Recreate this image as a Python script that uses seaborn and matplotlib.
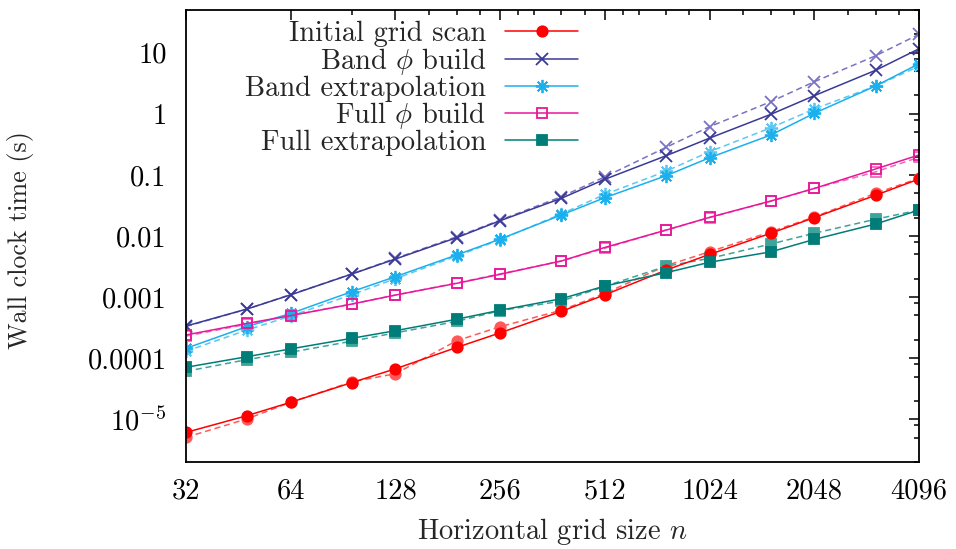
import matplotlib
matplotlib.use("Agg")
import matplotlib.pyplot as plt
import matplotlib.ticker as mticker
import seaborn as sns
import pandas as pd

# ---- data ----
n = [32, 48, 64, 96, 128, 192, 256, 384, 512, 768, 1024, 1536, 2048, 3072, 4096]

initial_scan = [6.1e-6, 1.15e-5, 1.9e-5, 4.0e-5, 6.7e-5, 1.5e-4, 2.6e-4, 5.85e-4, 1.09e-3,
                2.77e-3, 5.0e-3, 0.0111, 0.020, 0.0464, 0.0857]
initial_scan_alt = [5.07e-6, 1.02e-5, 1.9e-5, 4.1e-5, 5.57e-5, 1.93e-4, 3.28e-4, 6.1e-4, 1.15e-3,
                    3.27e-3, 5.53e-3, 0.0117, 0.0205, 0.050, 0.088]

band_build = [3.36e-4, 6.4e-4, 1.09e-3, 2.39e-3, 4.2e-3, 9.4e-3, 0.0178, 0.0414, 0.0848,
              0.206, 0.40, 0.98, 1.98, 5.15, 11.6]
band_build_alt = [3.3e-4, 6.4e-4, 1.1e-3, 2.4e-3, 4.3e-3, 9.7e-3, 0.0182, 0.044, 0.093,
                  0.283, 0.615, 1.58, 3.35, 8.9, 20.0]

band_extrap = [1.45e-4, 3.3e-4, 5.4e-4, 1.23e-3, 2.16e-3, 4.9e-3, 8.9e-3, 0.0221, 0.0424,
               0.097, 0.191, 0.45, 1.02, 2.85, 6.6]
band_extrap_alt = [1.3e-4, 2.9e-4, 4.9e-4, 1.1e-3, 2.0e-3, 4.7e-3, 8.7e-3, 0.023, 0.048,
                   0.115, 0.24, 0.59, 1.2, 2.85, 6.0]

full_build = [2.4e-4, 3.72e-4, 4.97e-4, 7.7e-4, 1.08e-3, 1.68e-3, 2.36e-3, 3.9e-3, 6.5e-3,
              0.0125, 0.0202, 0.0374, 0.060, 0.125, 0.212]
full_build_alt = [2.3e-4, 3.6e-4, 5.0e-4, 7.7e-4, 1.08e-3, 1.7e-3, 2.4e-3, 3.9e-3, 6.3e-3,
                  0.0125, 0.0200, 0.037, 0.060, 0.112, 0.195]

full_extrap = [7.1e-5, 1.06e-4, 1.42e-4, 2.12e-4, 2.82e-4, 4.34e-4, 6.1e-4, 9.4e-4, 1.52e-3,
               2.51e-3, 3.72e-3, 5.5e-3, 8.8e-3, 0.0157, 0.0266]
full_extrap_alt = [6.1e-5, 9.5e-5, 1.25e-4, 1.9e-4, 2.6e-4, 4.0e-4, 6.0e-4, 8.6e-4, 1.5e-3,
                   3.2e-3, 4.3e-3, 7.4e-3, 0.0111, 0.0188, 0.0266]

labels = ["Initial grid scan", r"Band $\phi$ build", "Band extrapolation",
          r"Full $\phi$ build", "Full extrapolation"]

x_ticks = [32, 64, 128, 256, 512, 1024, 2048, 4096]
x_tick_labels = ["32", "64", "128", "256", "512", "1024", "2048", "4096"]
x_minor = [96, 160, 192, 224, 288, 320, 384, 448, 576, 640, 768, 896,
           1280, 1536, 1792, 2560, 3072, 3584]
y_ticks = [1e-5, 1e-4, 1e-3, 1e-2, 1e-1, 1, 10]
y_tick_labels = [r"$10^{-5}$", "0.0001", "0.001", "0.01", "0.1", "1", "10"]

# ---- style ----
sns.set_style("white")
plt.rcParams["font.family"] = ["cmr10", "DejaVu Serif"]
plt.rcParams["mathtext.fontset"] = "cm"
plt.rcParams["axes.formatter.use_mathtext"] = True
plt.rcParams["axes.unicode_minus"] = False

FS = 20.5

fig = plt.figure(figsize=(9.56, 5.49), dpi=100)
ax = fig.add_axes([186 / 956, 1 - 462 / 549, (919 - 186) / 956, (462 - 10) / 549])

colors = ["#ff0000", "#3a3a96", "#1ab0ee", "#e8179a", "#007d78"]
alt_colors = ["#ff5a5a", "#7a72c4", "#5cc8f2", "#f06ab8", "#3fa39a"]
markers = ["o", "x", (8, 2, 0), "s", "s"]
filled = [True, True, True, False, True]
msizes = [7.5, 8.5, 9.5, 7.5, 7.5]

main = [initial_scan, band_build, band_extrap, full_build, full_extrap]
alts = [initial_scan_alt, band_build_alt, band_extrap_alt, full_build_alt, full_extrap_alt]


def marker_kw(i, col):
    kw = dict(marker=markers[i], markersize=msizes[i], markeredgewidth=1.3,
              markeredgecolor=col)
    kw["markerfacecolor"] = col if filled[i] else "none"
    return kw


# dashed (second run) first
for i in range(5):
    df = pd.DataFrame({"n": n, "t": alts[i]})
    sns.lineplot(data=df, x="n", y="t", ax=ax, color=alt_colors[i], linestyle=(0, (4, 2.5)),
                 linewidth=1.1, legend=False, **marker_kw(i, alt_colors[i]))

for i in range(5):
    df = pd.DataFrame({"n": n, "t": main[i]})
    sns.lineplot(data=df, x="n", y="t", ax=ax, color=colors[i], linewidth=1.1,
                 label=labels[i], **marker_kw(i, colors[i]))

ax.set_xscale("log", base=2)
ax.set_yscale("log")
ax.set_xlim(32, 4096)
ax.set_ylim(2.0e-6, 50)

ax.xaxis.set_major_locator(mticker.FixedLocator(x_ticks))
ax.xaxis.set_major_formatter(mticker.FixedFormatter(x_tick_labels))
ax.xaxis.set_minor_locator(mticker.FixedLocator(x_minor))
ax.xaxis.set_minor_formatter(mticker.NullFormatter())
ax.yaxis.set_major_locator(mticker.FixedLocator(y_ticks))
ax.yaxis.set_major_formatter(mticker.FixedFormatter(y_tick_labels))
ax.yaxis.set_minor_locator(mticker.LogLocator(base=10, subs=[2, 5, 8]))
ax.yaxis.set_minor_formatter(mticker.NullFormatter())

ax.tick_params(which="both", direction="in", top=True, right=True, colors="black",
               labelsize=FS)
ax.tick_params(which="major", length=7, width=1.1)
ax.tick_params(which="minor", length=3.5, width=1.1)
ax.tick_params(axis="y", which="major", pad=14)
ax.tick_params(axis="x", which="major", pad=12)
for s in ax.spines.values():
    s.set_linewidth(1.3)
    s.set_color("black")

ax.set_xlabel(r"Horizontal grid size $n$", fontsize=FS, labelpad=8)
ax.set_ylabel("Wall clock time (s)", fontsize=18.7)
ax.yaxis.set_label_coords((34 - 186) / 733, 1 - (240 - 10) / 452)

leg = ax.legend(loc="upper right", bbox_to_anchor=((578 - 186) / 733, 1 - (21 - 10) / 452),
                markerfirst=False, frameon=False, fontsize=FS, labelspacing=-0.05,
                handlelength=2.56, handletextpad=0.67, borderaxespad=0.0, borderpad=0.0)

fig.savefig("out.png", dpi=100)
